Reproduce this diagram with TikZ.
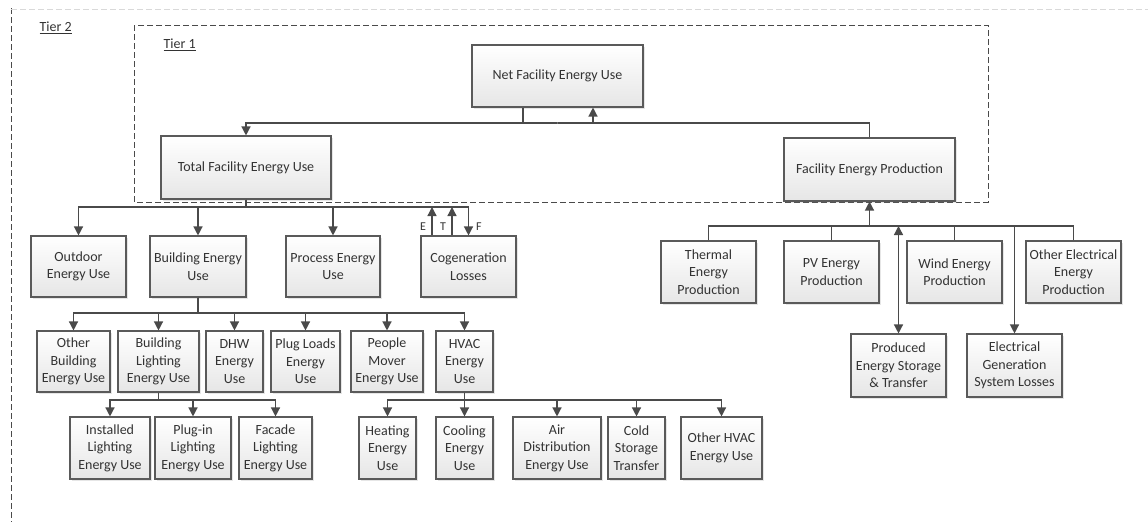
\documentclass[tikz,border=0pt]{standalone}
\usepackage{fontspec}
\setmainfont{Carlito}
\usetikzlibrary{arrows.meta,shadows}
\definecolor{boxline}{HTML}{5A5A5A}
\definecolor{boxfill}{HTML}{E6E6E6}
\definecolor{linegray}{HTML}{4A4A4A}
\definecolor{textgray}{HTML}{333333}
\begin{document}
\begin{tikzpicture}[x=1pt,y=-1pt,
  box/.style={draw=boxline, line width=1.1pt, top color=white, bottom color=boxfill,
    align=center, inner sep=1pt, text=textgray, font=\fontsize{14}{17.5}\selectfont,
    drop shadow={opacity=0.2, shadow xshift=1.5pt, shadow yshift=-1.5pt}},
  link/.style={draw=linegray, line width=1.3pt},
  flow/.style={link, -{Triangle[width=9pt,length=9pt]}},
  both/.style={link, {Triangle[width=9pt,length=9pt]}-{Triangle[width=9pt,length=9pt]}},
  tier/.style={draw=linegray, line width=1pt, dash pattern=on 6pt off 3pt}]
\useasboundingbox (0,0) rectangle (1148,522);
% tier frames
\draw[tier] (11,8) -- (11,522);
\draw[tier, draw=gray!30] (11,9) -- (1148,9);
\draw[tier] (134,25) rectangle (988,202);
\node[anchor=west, text=textgray, font=\fontsize{14}{17}\selectfont] (t2) at (36,28) {\underline{Tier 2}};
\node[anchor=west, text=textgray, font=\fontsize{14}{17}\selectfont] (t1) at (160,45) {\underline{Tier 1}};
% tier 1
\node[box, minimum width=171, minimum height=62] (net) at (557.5,76) {Net Facility Energy Use};
\node[box, minimum width=170, minimum height=63] (total) at (246,167.5) {Total Facility Energy Use};
\node[box, minimum width=171, minimum height=63] (fep) at (869.5,169.5) {Facility Energy Production};
% use side
\node[box, minimum width=95, minimum height=61] (outdoor) at (78.5,266.5) {Outdoor\\Energy Use};
\node[box, minimum width=96, minimum height=61] (building) at (198,266.5) {Building Energy\\Use};
\node[box, minimum width=94, minimum height=61] (process) at (333,266.5) {Process Energy\\Use};
\node[box, minimum width=95, minimum height=61] (cogen) at (468.5,266.5) {Cogeneration\\Losses};
\node[box, minimum width=73, minimum height=61] (otherbldg) at (73.5,361.5) {Other\\Building\\Energy Use};
\node[box, minimum width=81, minimum height=61] (lighting) at (158.5,361.5) {Building\\Lighting\\Energy Use};
\node[box, minimum width=57, minimum height=61] (dhw) at (234.5,361.5) {DHW\\Energy\\Use};
\node[box, minimum width=69, minimum height=61] (plug) at (305.5,361.5) {Plug Loads\\Energy\\Use};
\node[box, minimum width=72, minimum height=61] (people) at (387,361.5) {People\\Mover\\Energy Use};
\node[box, minimum width=57, minimum height=61] (hvac) at (464.5,361.5) {HVAC\\Energy\\Use};
\node[box, minimum width=80, minimum height=62] (installed) at (110,448) {Installed\\Lighting\\Energy Use};
\node[box, minimum width=76, minimum height=62] (plugin) at (193,448) {Plug-in\\Lighting\\Energy Use};
\node[box, minimum width=73, minimum height=62] (facade) at (275.5,448) {Facade\\Lighting\\Energy Use};
\node[box, minimum width=57, minimum height=62] (heating) at (387.5,448) {Heating\\Energy\\Use};
\node[box, minimum width=57, minimum height=62] (cooling) at (464.5,448) {Cooling\\Energy\\Use};
\node[box, minimum width=88, minimum height=62] (airdist) at (557,448) {Air\\Distribution\\Energy Use};
\node[box, minimum width=57, minimum height=62] (cold) at (636.5,448) {Cold\\Storage\\Transfer};
\node[box, minimum width=81, minimum height=62] (otherhvac) at (721.5,448) {Other HVAC\\Energy Use};
% production side
\node[box, minimum width=95, minimum height=62] (thermal) at (708.5,272) {Thermal\\Energy\\Production};
\node[box, minimum width=95, minimum height=62] (pv) at (831.5,272) {PV Energy\\Production};
\node[box, minimum width=95, minimum height=62] (wind) at (954.5,272) {Wind Energy\\Production};
\node[box, minimum width=95, minimum height=62] (otherelec) at (1073.5,272) {Other Electrical\\Energy\\Production};
\node[box, minimum width=95, minimum height=63] (storage) at (898.5,365.5) {Produced\\Energy Storage\\\& Transfer};
\node[box, minimum width=95, minimum height=63] (gensys) at (1014.5,365.5) {Electrical\\Generation\\System Losses};
% bus points
\coordinate (nb) at (557.5,123);
\coordinate (tb) at (246,207);
\coordinate (pb) at (869.5,226);
\coordinate (bb) at (198,313);
\coordinate (lb) at (158.5,400);
\coordinate (hb) at (464.5,400);
% connectors
\draw[flow] ([xshift=-34.5pt]net.south) |- (nb) -| (total.north);
\draw[flow] (fep.north) |- (nb) -| ([xshift=35.5pt]net.south);
\foreach \n in {outdoor,building,process,cogen}
  \draw[flow] (total.south) -- (tb) -| (\n.north);
\draw[flow] ([xshift=-36.5pt]cogen.north) -- ([xshift=-36.5pt]cogen.north |- tb);
\draw[flow] ([xshift=-16.5pt]cogen.north) -- ([xshift=-16.5pt]cogen.north |- tb);
\foreach \l/\x in {E/423,T/443,F/479}
  \node[text=textgray, font=\fontsize{12}{14}\selectfont] (lab\l) at (\x,227) {\l};
\foreach \n in {otherbldg,lighting,dhw,plug,people,hvac}
  \draw[flow] (building.south) -- (bb) -| (\n.north);
\foreach \n in {installed,plugin,facade}
  \draw[flow] (lighting.south) -- (lb) -| (\n.north);
\foreach \n in {heating,cooling,airdist,cold,otherhvac}
  \draw[flow] (hvac.south) -- (hb) -| (\n.north);
\foreach \n in {thermal,pv,wind,otherelec}
  \draw[link] (\n.north) |- (pb);
\draw[flow] (pb) -- (fep.south);
\draw[both] (storage.north |- pb) -- (storage.north);
\draw[flow] (gensys.north |- pb) -- (gensys.north);
\end{tikzpicture}
\end{document}
